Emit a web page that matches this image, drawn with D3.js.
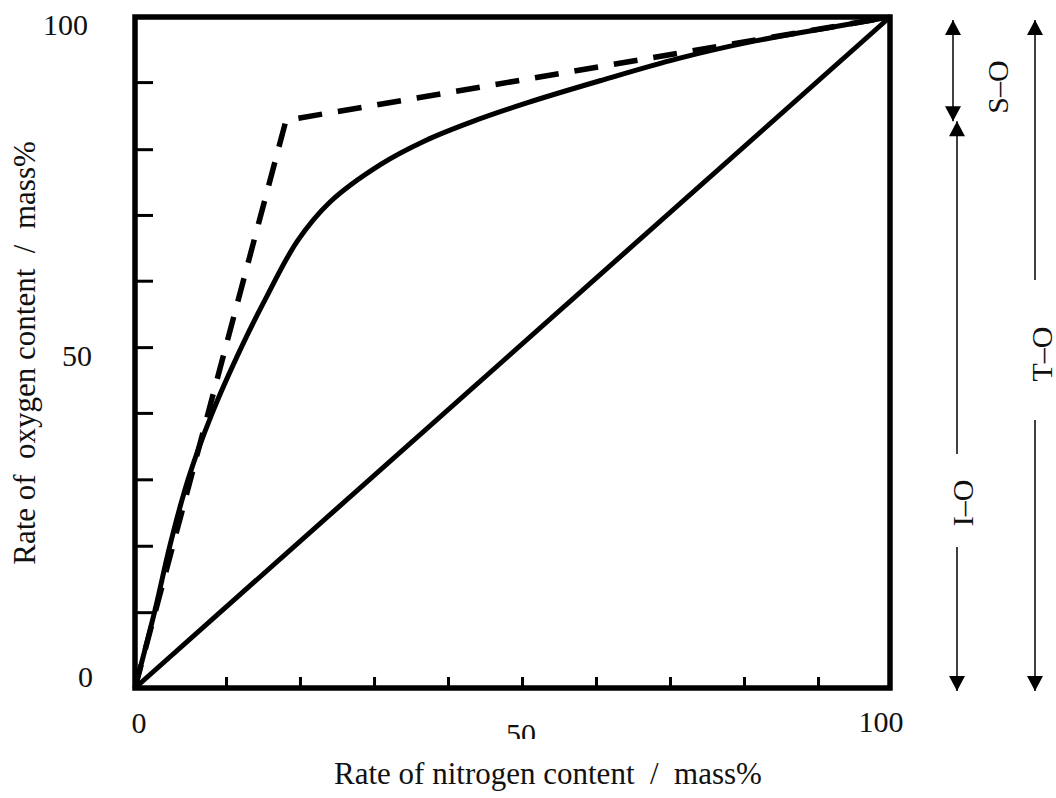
<!DOCTYPE html>
<html>
<head>
<meta charset="utf-8">
<script src="https://cdn.jsdelivr.net/npm/d3@7"></script>
<style>
  body { margin: 0; background: #fff; }
</style>
</head>
<body>
<svg id="chart" width="1056" height="798"></svg>
<script>
// Oxygen content vs nitrogen content (mass%)
const solidCurveN = [0, 2.65, 4.64, 7.06, 10.2, 14.1, 17.2, 21.5, 25.8, 32.5, 38.5, 44.4, 51.9, 61.9, 71.9, 82, 91.9, 100];
const solidCurveO = [0, 11.6, 21.3, 31.2, 40.9, 50.8, 57.8, 66.6, 72.4, 78.0, 81.6, 84.3, 87.2, 90.6, 93.8, 96.4, 98.4, 100];
const dashedN = [0, 20, 100];
const dashedO = [0, 84.6, 100];
const diagonalN = [0, 100];
const diagonalO = [0, 100];
const xTickValues = [12.05, 21.85, 31.66, 41.46, 51.26, 61.06, 70.86, 80.66, 90.46];
const yTickValues = [11.3, 21.2, 31.1, 41.0, 50.8, 60.7, 70.5, 80.3, 90.3];
const axisLabelValues = [0, 50, 100];
const axisLabelText = ["0", "50", "100"];
const rangeNames = ["S\u2013O", "I\u2013O", "T\u2013O"];
const rangeFrom = [100, 84.6, 100];
const rangeTo = [84.6, 0, 0];

const SERIF = "Liberation Serif";

const svg = d3.select("#chart");
const x = d3.scaleLinear().domain([0, 100]).range([135, 890]);
const y = d3.scaleLinear().domain([0, 100]).range([688, 17]);

const line = d3.line().x(d => x(d[0])).y(d => y(d[1]));
const smooth = d3.line().x(d => x(d[0])).y(d => y(d[1])).curve(d3.curveCatmullRom.alpha(0.5));

const zip = (a, b) => a.map((v, i) => [v, b[i]]);

// curves
svg.append("path").attr("d", line(zip(diagonalN, diagonalO)))
  .attr("fill", "none").attr("stroke", "#000").attr("stroke-width", 5);
svg.append("path").attr("d", smooth(zip(solidCurveN, solidCurveO)))
  .attr("fill", "none").attr("stroke", "#000").attr("stroke-width", 5);
svg.append("path").attr("d", line(zip(dashedN, dashedO)))
  .attr("fill", "none").attr("stroke", "#000").attr("stroke-width", 5.5)
  .attr("stroke-dasharray", "24,16").attr("stroke-linejoin", "miter");

// inward ticks
const gx = svg.append("g").attr("transform", `translate(0,${y(0)})`)
  .call(d3.axisBottom(x).tickValues(xTickValues).tickSize(-11).tickFormat(""));
gx.select(".domain").remove();
gx.selectAll(".tick line").attr("stroke", "#000").attr("stroke-width", 3);

const gy = svg.append("g").attr("transform", `translate(${x(0)},0)`)
  .call(d3.axisLeft(y).tickValues(yTickValues).tickSize(-18).tickFormat(""));
gy.select(".domain").remove();
gy.selectAll(".tick line").attr("stroke", "#000").attr("stroke-width", 3);

// frame
svg.append("rect")
  .attr("x", x(0)).attr("y", y(100))
  .attr("width", x(100) - x(0)).attr("height", y(0) - y(100))
  .attr("fill", "none").attr("stroke", "#000").attr("stroke-width", 5.5);

// y tick labels
const yLabelRight = [93, 92, 88];
const yLabelShift = [-1, 13, 18];
svg.selectAll(".ylab").data(axisLabelValues).enter().append("text")
  .attr("class", "ylab")
  .attr("x", (d, i) => yLabelRight[i])
  .attr("y", (d, i) => y(d) + yLabelShift[i])
  .attr("text-anchor", "end")
  .attr("font-family", SERIF)
  .attr("font-size", 30)
  .attr("fill", "#111")
  .text((d, i) => axisLabelText[i]);

// x tick labels
svg.append("defs").append("clipPath").attr("id", "xlabClip")
  .append("rect").attr("x", 0).attr("y", 0).attr("width", 1056).attr("height", 739);
const xLabelShift = [4, 8.5, -9];
const xLabelDrop = [45, 56, 44];
svg.selectAll(".xlab").data(axisLabelValues).enter().append("text")
  .attr("class", "xlab")
  .attr("x", (d, i) => x(d) + xLabelShift[i])
  .attr("y", (d, i) => y(0) + xLabelDrop[i])
  .attr("text-anchor", "middle")
  .attr("clip-path", "url(#xlabClip)")
  .attr("font-family", SERIF)
  .attr("font-size", 30)
  .attr("fill", "#111")
  .text((d, i) => axisLabelText[i]);

// axis titles
svg.append("text")
  .attr("x", 548).attr("y", 784)
  .attr("text-anchor", "middle")
  .attr("font-family", SERIF)
  .attr("font-size", 31)
  .attr("fill", "#111")
  .style("white-space", "pre")
  .text("Rate of nitrogen content  /  mass%");

svg.append("text")
  .attr("transform", "translate(35,353) rotate(-90)")
  .attr("text-anchor", "middle")
  .attr("font-family", SERIF)
  .attr("font-size", 31)
  .attr("fill", "#111")
  .style("white-space", "pre")
  .text("Rate of  oxygen content  /  mass%");

// range brackets on the right
function head(g, cx, tipY, dir) {
  // dir = -1 points up, +1 points down
  const len = 15, half = 8;
  g.append("path")
    .attr("d", `M${cx},${tipY} L${cx - half},${tipY - dir * len} L${cx + half},${tipY - dir * len} Z`)
    .attr("fill", "#000");
}
const ann = svg.append("g");
const colX = [953, 957, 1035];
const gaps = [null, [454, 547], [280, 420]];
const labelPos = [[997, 87], [962, 503], [1041, 354]];
rangeNames.forEach((name, i) => {
  const top = y(rangeFrom[i]) + (rangeFrom[i] === 100 ? 3 : 1);
  const bot = y(rangeTo[i]) + (rangeTo[i] === 0 ? 3 : 1);
  const cx = colX[i];
  const segs = gaps[i] ? [[top, gaps[i][0]], [gaps[i][1], bot]] : [[top, bot]];
  segs.forEach(s => ann.append("line")
    .attr("x1", cx).attr("x2", cx).attr("y1", s[0]).attr("y2", s[1])
    .attr("stroke", "#111").attr("stroke-width", 1.6));
  head(ann, cx, top, -1);
  head(ann, cx, bot, 1);
  ann.append("text")
    .attr("transform", `translate(${labelPos[i][0]},${labelPos[i][1]}) rotate(-90)`)
    .attr("text-anchor", "middle")
    .attr("dominant-baseline", "central")
    .attr("font-family", SERIF)
    .attr("font-size", 30)
    .attr("fill", "#111")
    .text(name);
});
</script>
</body>
</html>
